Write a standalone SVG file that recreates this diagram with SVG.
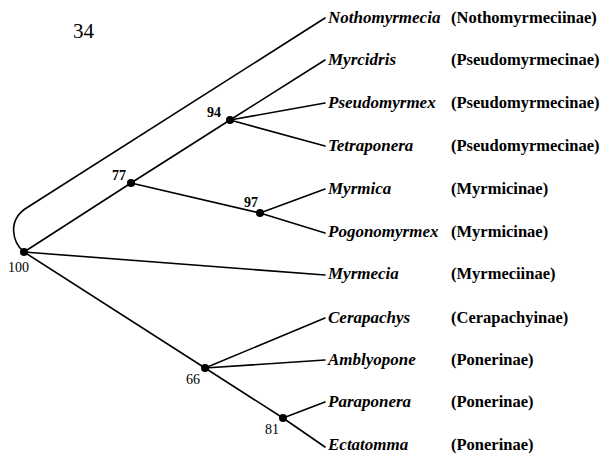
<svg xmlns="http://www.w3.org/2000/svg" width="600" height="453" viewBox="0 0 600 453">
<style>
.e{stroke:#000;stroke-width:1.6;fill:none;stroke-linecap:round}
.n{fill:#000}
.tx{font-family:"Liberation Serif",serif;font-weight:bold;font-style:italic;font-size:17px;fill:#000}
.fm{font-family:"Liberation Serif",serif;font-weight:bold;font-size:16.5px;fill:#000}
.lb{font-family:"Liberation Serif",serif;font-size:14px;fill:#000}
.lbb{font-family:"Liberation Serif",serif;font-size:14px;font-weight:bold;fill:#000}
</style>
<rect width="600" height="453" fill="#fff"/>
<text x="73" y="38" style="font-family:'Liberation Serif',serif;font-size:21px">34</text>
<g id="connectors">
<path class="e" d="M24,252 C13,243 6,220 28,207 L325,18"/>
<path class="e" d="M24,252 L131,183 L230,120 L325,60"/>
<path class="e" d="M230,120 L325,103"/>
<path class="e" d="M230,120 L325,146"/>
<path class="e" d="M131,183 L260,213 L325,233"/>
<path class="e" d="M260,213 L325,189"/>
<path class="e" d="M24,252 L325,275"/>
<path class="e" d="M24,252 L205,368 L283,418 L325,447"/>
<path class="e" d="M205,368 L325,318"/>
<path class="e" d="M205,368 L325,360"/>
<path class="e" d="M283,418 L325,402"/>
</g>
<g id="node-100"><circle class="n" cx="24" cy="252" r="4"/><text class="lb" x="8" y="272">100</text></g>
<g id="node-77"><circle class="n" cx="131" cy="183" r="4"/><text class="lbb" x="112" y="180">77</text></g>
<g id="node-94"><circle class="n" cx="230" cy="120" r="4"/><text class="lbb" x="207" y="117">94</text></g>
<g id="node-97"><circle class="n" cx="260" cy="213" r="4"/><text class="lbb" x="244" y="207">97</text></g>
<g id="node-66"><circle class="n" cx="205" cy="368" r="4"/><text class="lb" x="186" y="384">66</text></g>
<g id="node-81"><circle class="n" cx="283" cy="418" r="4"/><text class="lb" x="265" y="434">81</text></g>
<g id="leaf-nothomyrmecia"><text class="tx" x="328" y="23">Nothomyrmecia</text><text class="fm" x="451" y="23">(Nothomyrmeciinae)</text></g>
<g id="leaf-myrcidris"><text class="tx" x="328" y="65">Myrcidris</text><text class="fm" x="451" y="65">(Pseudomyrmecinae)</text></g>
<g id="leaf-pseudomyrmex"><text class="tx" x="328" y="108">Pseudomyrmex</text><text class="fm" x="451" y="108">(Pseudomyrmecinae)</text></g>
<g id="leaf-tetraponera"><text class="tx" x="328" y="151">Tetraponera</text><text class="fm" x="451" y="151">(Pseudomyrmecinae)</text></g>
<g id="leaf-myrmica"><text class="tx" x="328" y="194">Myrmica</text><text class="fm" x="451" y="194">(Myrmicinae)</text></g>
<g id="leaf-pogonomyrmex"><text class="tx" x="328" y="237">Pogonomyrmex</text><text class="fm" x="451" y="237">(Myrmicinae)</text></g>
<g id="leaf-myrmecia"><text class="tx" x="328" y="279">Myrmecia</text><text class="fm" x="451" y="279">(Myrmeciinae)</text></g>
<g id="leaf-cerapachys"><text class="tx" x="328" y="323">Cerapachys</text><text class="fm" x="451" y="323">(Cerapachyinae)</text></g>
<g id="leaf-amblyopone"><text class="tx" x="328" y="365">Amblyopone</text><text class="fm" x="451" y="365">(Ponerinae)</text></g>
<g id="leaf-paraponera"><text class="tx" x="328" y="407">Paraponera</text><text class="fm" x="451" y="407">(Ponerinae)</text></g>
<g id="leaf-ectatomma"><text class="tx" x="328" y="450">Ectatomma</text><text class="fm" x="451" y="450">(Ponerinae)</text></g>
</svg>
